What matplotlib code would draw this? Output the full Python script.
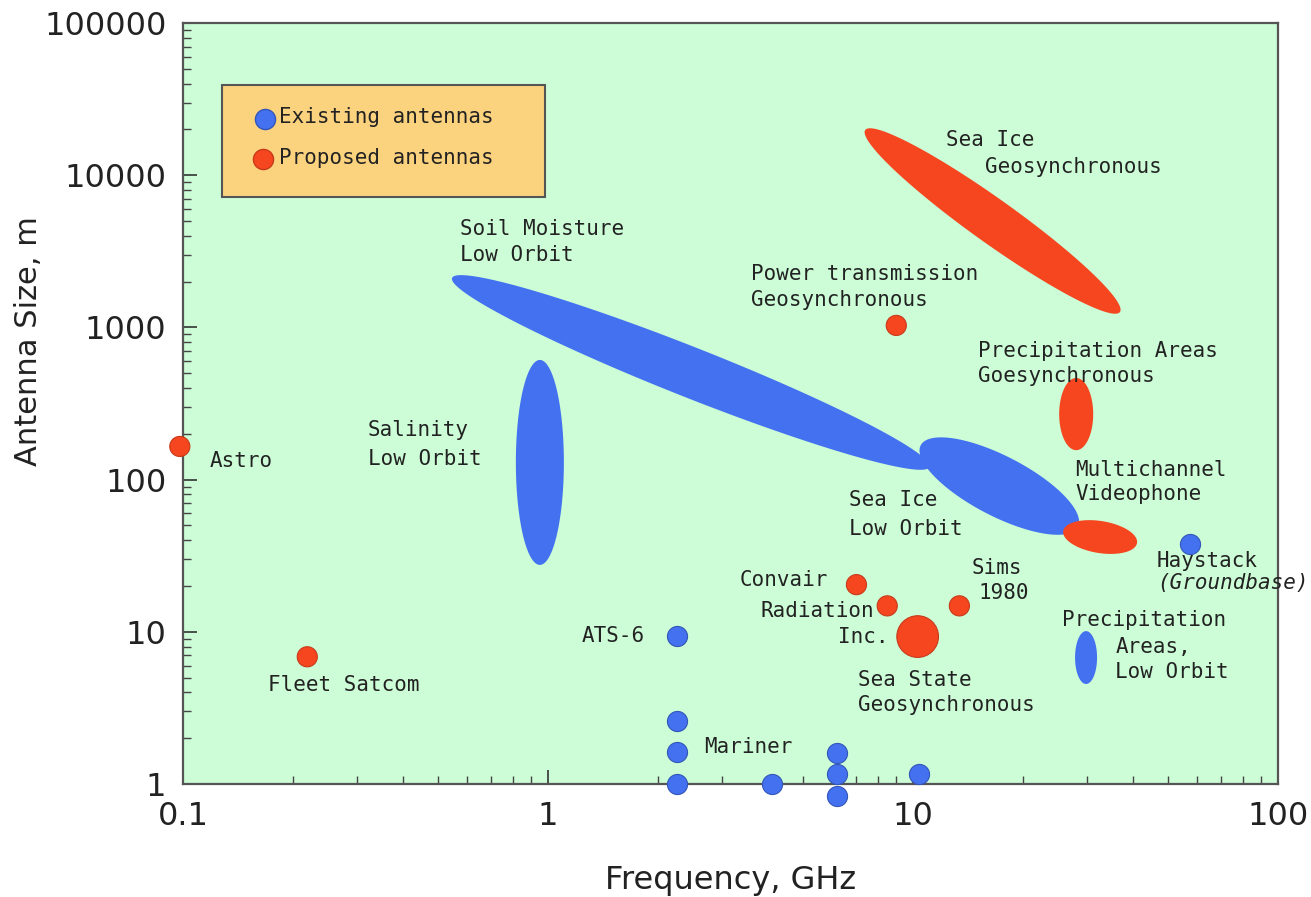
import numpy as np
import matplotlib
matplotlib.use("Agg")
import matplotlib.pyplot as plt
from matplotlib.patches import Rectangle

# ---------------- data ----------------
# existing antennas (blue points)
exist_freq = [2.25, 2.25, 2.25, 2.25, 4.1, 6.2, 6.2, 6.2, 10.4, 57.4]
exist_size = [9.4, 2.6, 1.62, 1.0, 1.0, 1.6, 1.16, 0.83, 1.16, 38]

# proposed antennas (red points)
prop_names = ["Astro", "Fleet Satcom", "Power transmission", "Convair",
              "Radiation Inc.", "Sims 1980", "Sea State"]
prop_freq = [0.098, 0.219, 9.0, 7.0, 8.5, 13.4, 10.3]
prop_size = [165, 6.85, 1030, 20.4, 14.8, 14.8, 9.3]
prop_big = [False, False, False, False, False, False, True]

# regions (ellipses between two end points, in freq/size)
reg_names = ["Sea Ice Geosynchronous", "Soil Moisture", "Sea Ice Low Orbit",
             "Salinity", "Precipitation Geo", "Videophone", "Precipitation LO"]
reg_kind = ["proposed", "existing", "existing", "existing",
            "proposed", "proposed", "existing"]
reg_f1 = [7.4, 0.546, 10.5, 0.95, 28.0, 25.8, 29.8]
reg_s1 = [19800, 2112, 168, 611, 465, 45.9, 10.1]
reg_f2 = [36.9, 11.1, 28.3, 0.95, 28.0, 41.1, 29.8]
reg_s2 = [1262, 121, 48.9, 27.5, 156, 38.3, 4.54]
reg_thick_px = [44, 50, 60, 48, 34, 32, 22]

x_ticks = [0.1, 1, 10, 100]
x_ticklabels = ["0.1", "1", "10", "100"]
y_ticks = [1, 10, 100, 1000, 10000, 100000]
y_ticklabels = ["1", "10", "100", "1000", "10000", "100000"]

# annotations: (text, x, y, italic)
labels = [
    ("Sea Ice", 12.3, 17000, False), ("Geosynchronous", 15.8, 11300, False),
    ("Soil Moisture", 0.574, 4430, False), ("Low Orbit", 0.574, 2990, False),
    ("Power transmission", 3.6, 2243, False), ("Geosynchronous", 3.6, 1513, False),
    ("Precipitation Areas", 15.1, 700, False), ("Goesynchronous", 15.1, 480, False),
    ("Salinity", 0.321, 212, False), ("Low Orbit", 0.321, 137, False),
    ("Astro", 0.1186, 132, False),
    ("Multichannel", 27.8, 116, False), ("Videophone", 27.8, 80.4, False),
    ("Sea Ice", 6.68, 73.5, False), ("Low Orbit", 6.68, 47.4, False),
    ("Haystack", 46.6, 29.2, False), ("(Groundbase)", 46.6, 20.9, True),
    ("Convair", 3.36, 21.9, False),
    ("Sims", 14.5, 26.3, False), ("1980", 15.1, 18.0, False),
    ("Radiation", 3.81, 13.7, False), ("Inc.", 6.23, 9.25, False),
    ("ATS-6", 1.24, 9.4, False),
    ("Precipitation", 25.6, 11.9, False), ("Areas,", 35.8, 7.94, False),
    ("Low Orbit", 35.8, 5.44, False),
    ("Sea State", 7.07, 4.83, False), ("Geosynchronous", 7.07, 3.3, False),
    ("Fleet Satcom", 0.171, 4.47, False),
    ("Mariner", 2.67, 1.75, False),
]

# ---------------- style ----------------
BLUE = "#4471f0"
RED = "#f5461f"
BG = "#ccfdd6"
LEG = "#fbd27e"
TXT = "#222222"
MONO = "DejaVu Sans Mono"

fig = plt.figure(figsize=(13.11, 8.97), dpi=100)
ax = fig.add_axes([0.1396, 0.1260, 0.8352, 0.8484])
ax.set_xscale("log")
ax.set_yscale("log")
ax.set_xlim(0.1, 100)
ax.set_ylim(1, 100000)
ax.set_facecolor(BG)

for s in ax.spines.values():
    s.set_color("#555555")
    s.set_linewidth(1.6)

ax.set_xticks(x_ticks)
ax.set_xticklabels(x_ticklabels)
ax.set_yticks(y_ticks)
ax.set_yticklabels(y_ticklabels)
ax.tick_params(which="major", direction="in", length=10, width=1.2,
               labelsize=23, pad=12, colors="#333333", labelcolor="#222222")
ax.tick_params(which="minor", direction="in", length=6, width=1.0, colors="#444444")
ax.tick_params(axis="y", which="minor", labelleft=False)
ax.tick_params(axis="x", which="minor", labelbottom=False)

ax.set_xlabel("Frequency, GHz", fontsize=23, color="#222222", labelpad=24)
ax.set_ylabel("Antenna Size, m", fontsize=22, color="#222222")
ax.yaxis.set_label_coords(-0.128, 0.582)


def draw_region(p1, p2, thick, color):
    d1 = ax.transData.transform(p1)
    d2 = ax.transData.transform(p2)
    c = (d1 + d2) / 2
    v = d2 - d1
    L = np.hypot(*v)
    u = v / L
    n = np.array([-u[1], u[0]])
    t = np.linspace(0, 2 * np.pi, 300)
    pts = c + np.outer(np.cos(t) * L / 2, u) + np.outer(np.sin(t) * thick / 2, n)
    dat = ax.transData.inverted().transform(pts)
    ax.fill(dat[:, 0], dat[:, 1], color=color, lw=0, zorder=2)


for f1, s1, f2, s2, th, k in zip(reg_f1, reg_s1, reg_f2, reg_s2, reg_thick_px, reg_kind):
    draw_region((f1, s1), (f2, s2), th, BLUE if k == "existing" else RED)

ax.scatter(exist_freq, exist_size, s=210, color=BLUE, edgecolor="#3357b8",
           linewidth=0.8, zorder=4, clip_on=False)
sizes = [900 if b else 210 for b in prop_big]
ax.scatter(prop_freq, prop_size, s=sizes, color=RED, edgecolor="#c83a1a",
           linewidth=0.8, zorder=4, clip_on=False)

for txt, x, y, it in labels:
    ax.text(x, y, txt, fontsize=15, family=MONO, color=TXT, ha="left",
            va="center", style="italic" if it else "normal", zorder=5)

# legend box
ax.add_patch(Rectangle((0.0356, 0.771), 0.295, 0.147, transform=ax.transAxes,
                       facecolor=LEG, edgecolor="#555555", lw=1.5, zorder=6))
ax.scatter([0.075], [0.874], s=210, color=BLUE, edgecolor="#3357b8",
           transform=ax.transAxes, zorder=7, clip_on=False)
ax.scatter([0.073], [0.821], s=210, color=RED, edgecolor="#c83a1a",
           transform=ax.transAxes, zorder=7, clip_on=False)
ax.text(0.088, 0.877, "Existing antennas", transform=ax.transAxes, fontsize=15,
        family=MONO, color=TXT, va="center", zorder=7)
ax.text(0.088, 0.823, "Proposed antennas", transform=ax.transAxes, fontsize=15,
        family=MONO, color=TXT, va="center", zorder=7)

fig.savefig("out.png", dpi=100)
